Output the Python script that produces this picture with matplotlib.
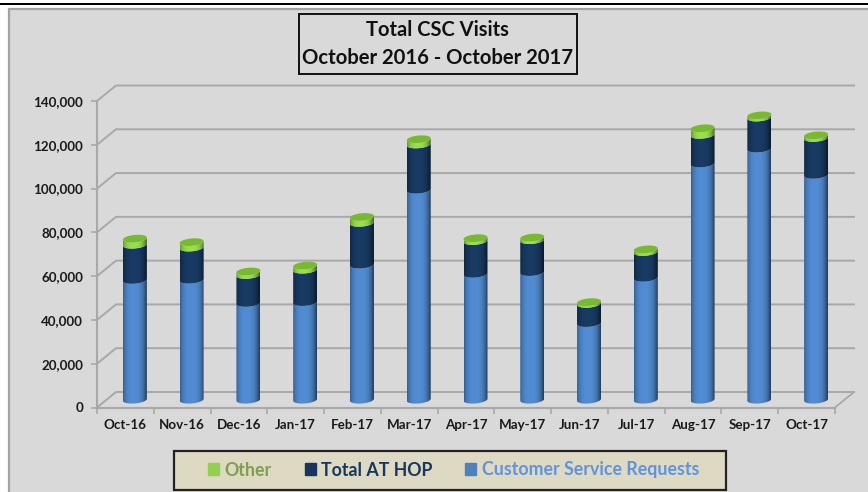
#
# Total CSC visits, stacked "3D" cylinders drawn on a flat axes
#

import numpy as np
import matplotlib
matplotlib.use('Agg')
import matplotlib.pyplot as plt
from matplotlib.patches import Rectangle, PathPatch, Patch
from matplotlib.path import Path

months = ['Oct-16', 'Nov-16', 'Dec-16', 'Jan-17', 'Feb-17', 'Mar-17', 'Apr-17',
          'May-17', 'Jun-17', 'Jul-17', 'Aug-17', 'Sep-17', 'Oct-17']
customer_service = [54700, 54800, 44200, 44600, 61700, 95900, 57500,
                    58300, 35000, 55700, 107900, 114700, 102700]
total_at_hop = [16100, 14700, 12800, 14800, 19100, 20700, 15000,
                14600, 8800, 11800, 13100, 14200, 16900]
other = [2800, 2500, 1600, 1900, 2700, 2400, 1300,
         1200, 800, 1200, 3000, 1000, 1200]
y_ticks = [0, 20000, 40000, 60000, 80000, 100000, 120000, 140000]

W, H = 868, 492
FONT = 'Lato'

# pixel scale of the axes
X_PX = 738 / 13
Y_PX = 306.5 / 140000
# depth of the fake 3D box, data units
DEPTH_X = 19 / X_PX
DEPTH_Y = 15.5 / Y_PX
# cylinder shape, data units
RX = 12 / X_PX
RY = 3.7 / Y_PX
TILT = 1.0 / Y_PX


def figBox(x0, y0, x1, y1):
    # pixel box (from the top left) to figure coords
    return x0 / W, 1 - y1 / H, (x1 - x0) / W, (y1 - y0) / H


def addBox(fig, x0, y0, x1, y1, face, edge, lw, z=1):
    l, b, w, h = figBox(x0, y0, x1, y1)
    fig.add_artist(Rectangle((l, b), w, h, transform=fig.transFigure, facecolor=face,
                             edgecolor=edge, linewidth=lw, zorder=z))


def shade(color):
    # horizontal cylinder shading, dark on the sides
    rgb = np.array(matplotlib.colors.to_rgb(color))
    t = np.linspace(-1, 1, 48)
    f = 1.06 - 0.46 * np.abs(t + 0.1) ** 3.0
    return np.clip(rgb[None, None, :] * f[None, :, None], 0, 1)


def drawSegment(ax, x, y0, y1, color, z):
    t = np.linspace(np.pi, 2 * np.pi, 40)
    xs = x + RX * np.cos(t)
    low = y0 + RY * np.sin(t) + TILT * np.cos(t)
    high = y1 + RY * np.sin(t) + TILT * np.cos(t)
    verts = np.vstack([np.column_stack([xs, low]), np.column_stack([xs[::-1], high[::-1]])])
    path = Path(np.vstack([verts, verts[0]]), closed=True)
    patch = PathPatch(path, transform=ax.transData, facecolor='none', edgecolor='none')
    ax.add_patch(patch)
    im = ax.imshow(shade(color), extent=(x - RX, x + RX, y0 - RY * 2, y1 + RY * 2),
                   aspect='auto', origin='lower', zorder=z, interpolation='bilinear')
    im.set_clip_path(patch)


def drawCap(ax, x, y, color, z):
    t = np.linspace(0, 2 * np.pi, 60)
    ax.fill(x + RX * np.cos(t), y + RY * np.sin(t) + TILT * np.cos(t), color=color,
            linewidth=0, zorder=z, clip_on=False)


fig = plt.figure(figsize=(W / 100, H / 100), dpi=100, facecolor='white')

# panel behind everything and the black rule at the top
addBox(fig, 9, 9, W + 5, H + 5, '#d9d9d9', '#a3a3a3', 1.6, z=0)
l, b, w, h = figBox(0, 3, W, 4.5)
fig.add_artist(Rectangle((l, b), w, h, transform=fig.transFigure, facecolor='black',
                         edgecolor='none', zorder=0.5))

ax = fig.add_axes(figBox(97, 101, 835, 407.5))
ax.patch.set_alpha(0)

x = np.arange(len(months))
for v in y_ticks:
    ax.plot([-0.5, -0.5 + DEPTH_X, 12.5 + DEPTH_X], [v, v + DEPTH_Y, v + DEPTH_Y],
            color='#a8a8a8', linewidth=1.4, clip_on=False, zorder=1)
ax.plot([12.5, 12.5 + DEPTH_X], [0, DEPTH_Y], color='#a8a8a8', linewidth=1.3,
        clip_on=False, zorder=1)

# bars sit halfway into the depth
for i in x:
    cx = i + DEPTH_X / 2
    base = DEPTH_Y / 2
    a = base + customer_service[i]
    b2 = a + total_at_hop[i]
    c = b2 + other[i]
    drawSegment(ax, cx, base, a, '#4d84c6', 3)
    drawSegment(ax, cx, a, b2, '#17375e', 4)
    drawSegment(ax, cx, b2, c, '#8fd444', 5)
    drawCap(ax, cx, c, '#78b832', 6)

ax.set_xlim(-0.5, 12.5)
ax.set_ylim(0, 140000)

for side in ['top', 'right']:
    ax.spines[side].set_visible(False)
for side in ['left', 'bottom']:
    ax.spines[side].set_color('#a8a8a8')
    ax.spines[side].set_linewidth(1.5)

ax.set_yticks(y_ticks)
ax.set_yticklabels([f'{v:,}' for v in y_ticks], fontname=FONT, fontweight='bold',
                   fontsize=9.6, color='#1a1a1a')
ax.set_xticks(x)
ax.set_xticklabels(months, fontname=FONT, fontweight='bold', fontsize=9.6, color='#1a1a1a')
ax.set_xticks(np.arange(-0.5, 13, 1), minor=True)
ax.tick_params(axis='x', which='major', length=0, pad=8)
ax.tick_params(axis='x', which='minor', length=4, color='#a8a8a8', width=1.2)
ax.tick_params(axis='y', length=4, color='#a8a8a8', width=1.2, pad=6)

# title box
addBox(fig, 299, 13.5, 577, 74, '#d9d9d9', '#111111', 1.4, z=2)
fig.text(437 / W, 1 - 30.5 / H, 'Total CSC Visits', ha='center', va='center', fontname=FONT,
         fontweight='bold', fontsize=14.5, color='#111111', zorder=3)
fig.text(437.5 / W, 1 - 58 / H, 'October 2016 - October 2017', ha='center', va='center',
         fontname=FONT, fontweight='bold', fontsize=14.6, color='#111111', zorder=3)

# legend box
addBox(fig, 174, 450.5, 726, 489.5, '#ddd9c3', '#222222', 1.6, z=2)
handles = [Patch(color='#92d050'), Patch(color='#17375e'), Patch(color='#4f81bd')]
leg = fig.legend(handles, ['Other', 'Total AT HOP', 'Customer Service Requests'],
                 loc='center', bbox_to_anchor=(453.5 / W, 1 - 470 / H), ncol=3, frameon=False,
                 prop={'family': FONT, 'weight': 'bold', 'size': 12.8},
                 labelcolor=['#7f9f4f', '#17375e', '#5f94dc'], handlelength=0.62,
                 handleheight=0.62, handletextpad=0.3, columnspacing=1.85)
leg.set_zorder(3)

fig.savefig('out.png', dpi=100)
